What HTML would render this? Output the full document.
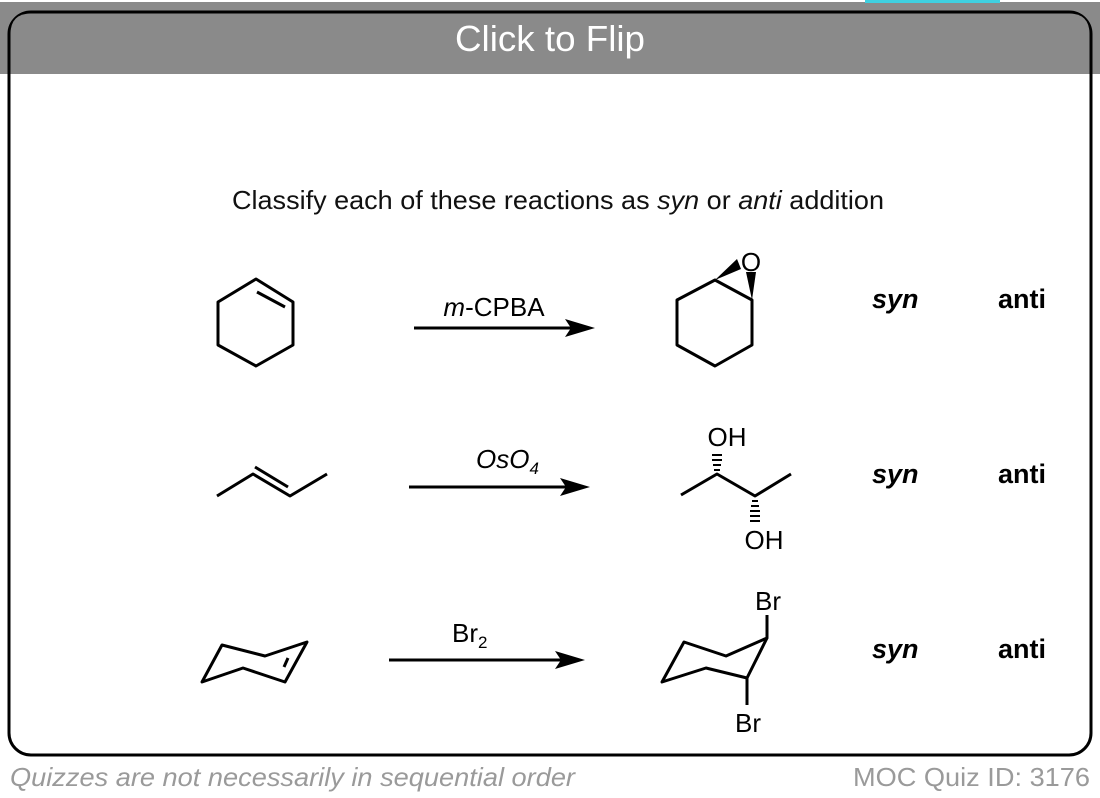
<!DOCTYPE html>
<html><head><meta charset="utf-8"><style>
html,body{margin:0;padding:0;background:#fff;}
svg{display:block;font-family:"Liberation Sans",sans-serif;}
</style></head><body>
<svg width="1100" height="798" viewBox="0 0 1100 798" xmlns="http://www.w3.org/2000/svg">
<rect x="0" y="2" width="1100" height="72" fill="#8a8a8a"/>
<rect x="865" y="0" width="135" height="3" fill="#3fd0e0"/>
<rect x="9" y="12" width="1082" height="743" rx="22" fill="none" stroke="#000" stroke-width="3"/>
<path d="M10.5 74 V34 Q10.5 13.5 31 13.5 H1069 Q1089.5 13.5 1089.5 34 V74 Z" fill="#8a8a8a"/>
<text x="550" y="51" font-size="36" fill="#fff" text-anchor="middle" textLength="190" lengthAdjust="spacingAndGlyphs">Click to Flip</text>
<text x="232" y="209" font-size="26" fill="#111" textLength="652" lengthAdjust="spacingAndGlyphs">Classify each of these reactions as <tspan font-style="italic">syn</tspan> or <tspan font-style="italic">anti</tspan> addition</text>
<g fill="none" stroke="#000" stroke-width="3" stroke-linejoin="round">
<polygon points="256,279 293,302 293,345 256,366 218,345 218,302"/>
<line x1="257" y1="292" x2="285" y2="307"/>
<polyline points="217,496 253,474 290,496 327,474"/>
<line x1="255" y1="467" x2="288" y2="487"/>
<polygon points="202,682 222,645 265,656 307,642 285,682 243,668"/>
<line x1="284" y1="667" x2="288" y2="658"/>
<polygon points="677,300 715,280 752,300 752,345 715,366 677,345"/>
<polyline points="681,495 717,474 755,496 791,474"/>
<polyline points="747,705 747,678 706,668 662,682 684,642 726,656 767,638 767,615"/>
<line x1="767" y1="638" x2="747" y2="678"/>
<line x1="414" y1="328" x2="575" y2="328"/>
<line x1="409" y1="487" x2="570" y2="487"/>
<line x1="389" y1="660" x2="565" y2="660"/>
</g>
<polygon points="595,328 565,319 571,328 565,337"/>
<polygon points="590,487 560,478 566,487 560,496"/>
<polygon points="585,660 555,651 561,660 555,669"/>
<polygon points="715,280 737,259 741,269"/>
<polygon points="752,300 746,272 756,272"/>
<g stroke="#000" stroke-width="2">
<line x1="714" y1="470" x2="720" y2="470"/><line x1="713" y1="465" x2="721" y2="465"/><line x1="712" y1="460" x2="722" y2="460"/><line x1="712" y1="455" x2="722" y2="455"/>
<line x1="752" y1="501" x2="758" y2="501"/><line x1="751" y1="506" x2="759" y2="506"/><line x1="750" y1="511" x2="760" y2="511"/><line x1="750" y1="516" x2="760" y2="516"/><line x1="750" y1="521" x2="760" y2="521"/>
</g>
<g font-size="26" fill="#000">
<text x="751" y="271" text-anchor="middle">O</text>
<text x="727" y="446" text-anchor="middle">OH</text>
<text x="764" y="549" text-anchor="middle">OH</text>
<text x="768" y="610" text-anchor="middle">Br</text>
<text x="748" y="732" text-anchor="middle">Br</text>
<text x="494" y="316" text-anchor="middle"><tspan font-style="italic">m</tspan>-CPBA</text>
<text x="476" y="468" font-style="italic">OsO<tspan font-size="17" dy="6">4</tspan></text>
<text x="452" y="642">Br<tspan font-size="17" dy="6">2</tspan></text>
</g>
<g font-size="27" font-weight="bold" fill="#000">
<text x="872" y="308" font-style="italic">syn</text><text x="998" y="308">anti</text>
<text x="872" y="483" font-style="italic">syn</text><text x="998" y="483">anti</text>
<text x="872" y="658" font-style="italic">syn</text><text x="998" y="658">anti</text>
</g>
<text x="10" y="786" font-size="26" font-style="italic" fill="#9a9a9a" textLength="565" lengthAdjust="spacingAndGlyphs">Quizzes are not necessarily in sequential order</text>
<text x="853" y="786" font-size="26" fill="#9a9a9a" textLength="237" lengthAdjust="spacingAndGlyphs">MOC Quiz ID: 3176</text>
</svg>
</body></html>
